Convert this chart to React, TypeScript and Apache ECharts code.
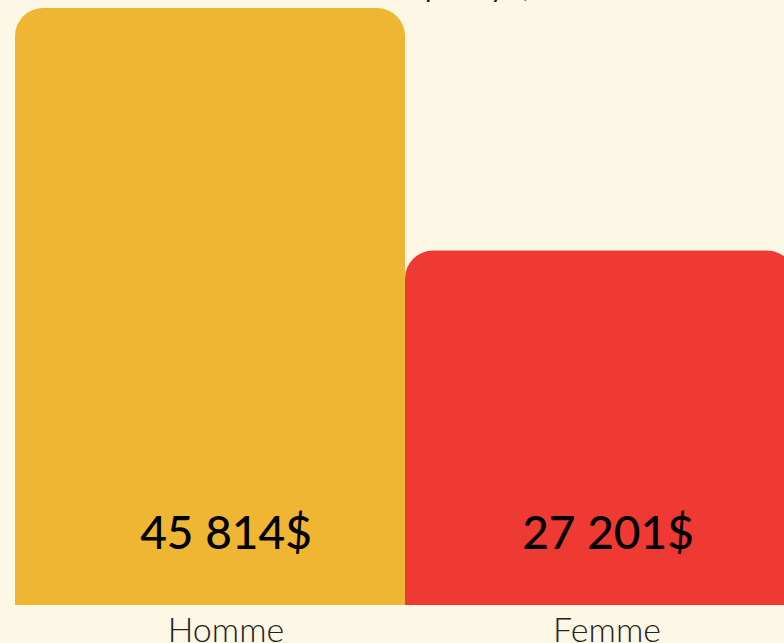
import React, { useEffect, useRef } from "react";
import * as echarts from "echarts";

const categories = ["Homme", "Femme"];
const values = [45814, 27201];
const valueLabels = ["45 814$", "27 201$"];
const barColors = ["#EFB633", "#EF3A33"];
const titleText = "Revenu total annuel d'emploi moyen,";

export default function App() {
  const ref = useRef<HTMLDivElement>(null);
  useEffect(() => {
    if (!ref.current) return;
    const chart = echarts.init(ref.current, undefined, { renderer: "svg" });
    const labelShift = [16, 8];
    chart.setOption({
      animation: false,
      backgroundColor: "#FDF8E6",
      graphic: [
        {
          type: "text",
          x: 365,
          y: 0,
          style: {
            text: titleText,
            fontFamily: "Lato",
            fontWeight: "bold",
            fontSize: 20,
            fill: "#111",
            align: "center",
            verticalAlign: "bottom",
          },
        },
      ],
      grid: {
        left: 15,
        right: 5,
        top: 8,
        bottom: 38,
        containLabel: false,
        outerBoundsMode: "none",
      },
      xAxis: {
        type: "category",
        data: categories,
        axisLine: { show: false },
        axisTick: { show: false },
        axisLabel: {
          margin: 6,
          formatter: (v: string) => (v === categories[0] ? `{a|${v}}` : `{b|${v}}`),
          rich: {
            a: {
              fontFamily: "Lato",
              fontWeight: 300,
              fontSize: 34,
              color: "#222",
              padding: [0, 0, 0, 32],
            },
            b: {
              fontFamily: "Lato",
              fontWeight: 300,
              fontSize: 34,
              color: "#222",
              padding: [0, 0, 0, 14],
            },
          },
        },
      },
      yAxis: {
        type: "value",
        min: 0,
        max: values[0],
        show: false,
        splitLine: { show: false },
      },
      series: [
        {
          type: "bar",
          barCategoryGap: "0%",
          barWidth: "100%",
          data: values.map((v, i) => ({
            value: v,
            itemStyle: { color: barColors[i], borderRadius: [28, 28, 0, 0] },
            label: {
              show: true,
              position: ["50%", "100%"],
              offset: [labelShift[i], -74],
              align: "center",
              verticalAlign: "middle",
              formatter: valueLabels[i],
              fontFamily: "Lato",
              fontWeight: 500,
              fontSize: 46,
              color: "#000",
            },
          })),
        },
      ],
    });
    return () => chart.dispose();
  }, []);
  return (
    <div
      ref={ref}
      style={{ position: "fixed", left: 0, top: 0, width: 800, height: 643 }}
    />
  );
}
